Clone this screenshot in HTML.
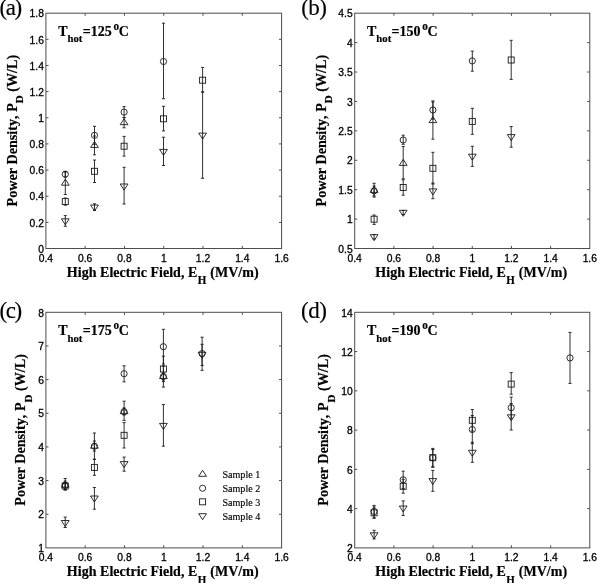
<!DOCTYPE html>
<html lang="en"><head><meta charset="utf-8"><title>Power density vs high electric field</title>
<style>html,body{margin:0;padding:0;background:#fff}body{width:597px;height:583px;overflow:hidden}svg{display:block}text{font-kerning:none}</style>
</head><body>
<svg width="597" height="583" viewBox="0 0 597 583">
<rect width="597" height="583" fill="#fff"/>
<g fill="none" stroke="#4d4d4d" stroke-width="1">
<rect x="45.9" y="13.2" width="235.7" height="235.3"/>
<path d="M85.18 248.5v-2.6M85.18 13.2v2.6M124.47 248.5v-2.6M124.47 13.2v2.6M163.75 248.5v-2.6M163.75 13.2v2.6M203.03 248.5v-2.6M203.03 13.2v2.6M242.32 248.5v-2.6M242.32 13.2v2.6M45.9 222.36h2.6M281.6 222.36h-2.6M45.9 196.21h2.6M281.6 196.21h-2.6M45.9 170.07h2.6M281.6 170.07h-2.6M45.9 143.92h2.6M281.6 143.92h-2.6M45.9 117.78h2.6M281.6 117.78h-2.6M45.9 91.63h2.6M281.6 91.63h-2.6M45.9 65.49h2.6M281.6 65.49h-2.6M45.9 39.34h2.6M281.6 39.34h-2.6"/>
</g>
<g font-family="Liberation Sans, Arial, Helvetica, sans-serif" font-size="10.3" fill="#000" stroke="#000" stroke-width="0.3">
<text x="45.9" y="261.6" text-anchor="middle">0.4</text>
<text x="85.18" y="261.6" text-anchor="middle">0.6</text>
<text x="124.47" y="261.6" text-anchor="middle">0.8</text>
<text x="163.75" y="261.6" text-anchor="middle">1</text>
<text x="203.03" y="261.6" text-anchor="middle">1.2</text>
<text x="242.32" y="261.6" text-anchor="middle">1.4</text>
<text x="281.6" y="261.6" text-anchor="middle">1.6</text>
<text x="43.9" y="252.7" text-anchor="end">0</text>
<text x="43.9" y="226.56" text-anchor="end">0.2</text>
<text x="43.9" y="200.41" text-anchor="end">0.4</text>
<text x="43.9" y="174.27" text-anchor="end">0.6</text>
<text x="43.9" y="148.12" text-anchor="end">0.8</text>
<text x="43.9" y="121.98" text-anchor="end">1</text>
<text x="43.9" y="95.83" text-anchor="end">1.2</text>
<text x="43.9" y="69.69" text-anchor="end">1.4</text>
<text x="43.9" y="43.54" text-anchor="end">1.6</text>
<text x="43.9" y="17.4" text-anchor="end">1.8</text>
</g>
<text font-family="Liberation Serif, Times New Roman, Times, serif" font-weight="bold" stroke="#000" stroke-width="0.2" font-size="14" transform="translate(162.75 276.8) scale(1 1.05)" letter-spacing="0.03" text-anchor="middle">High Electric Field, E<tspan font-size="11" dy="7.2" dx="0.4">H</tspan><tspan dy="-7.2" dx="0.5"> (MV/m)</tspan></text>
<text font-family="Liberation Serif, Times New Roman, Times, serif" font-weight="bold" stroke="#000" stroke-width="0.2" font-size="14.15" transform="translate(16.7 130.65) rotate(-90)" text-anchor="middle">Power Density, P<tspan font-size="11" dy="6.5">D</tspan><tspan dy="-6.5"> (W/L)</tspan></text>
<text font-family="Liberation Serif, Times New Roman, Times, serif" font-weight="bold" stroke="#000" stroke-width="0.2" font-size="14" transform="translate(58.2 35.7) scale(1 1.05)">T<tspan font-size="10.7" dy="6.4">hot</tspan><tspan dy="-6.4" dx="0.3">=125</tspan><tspan font-size="11.2" dy="-5.6" dx="1.8">o</tspan><tspan dy="5.6" dx="-0.3">C</tspan></text>
<text font-family="Liberation Serif, Times New Roman, Times, serif" font-size="23" letter-spacing="-1.4" stroke="#000" stroke-width="0.15" x="-0.6" y="15">(a)</text>
<g fill="none" stroke="#1a1a1a" stroke-width="0.9" stroke-linejoin="miter">
<path d="M65.3 171.5V177M63.75 171.5h3.1M63.75 177h3.1M65.3 172V194.5M63.75 172h3.1M63.75 194.5h3.1M65.3 198V205.2M63.75 198h3.1M63.75 205.2h3.1M65.3 215.6V226.3M63.75 215.6h3.1M63.75 226.3h3.1M94.5 126.3V144.3M92.95 126.3h3.1M92.95 144.3h3.1M94.5 136V154.8M92.95 136h3.1M92.95 154.8h3.1M94.5 160V182.5M92.95 160h3.1M92.95 182.5h3.1M94.5 203.8V210.5M92.95 203.8h3.1M92.95 210.5h3.1M124.1 106.6V117.6M122.55 106.6h3.1M122.55 117.6h3.1M124.1 117.5V127.8M122.55 117.5h3.1M122.55 127.8h3.1M124.1 136.4V156.1M122.55 136.4h3.1M122.55 156.1h3.1M124.1 167.3V204M122.55 167.3h3.1M122.55 204h3.1M163.5 23.2V98.7M161.95 23.2h3.1M161.95 98.7h3.1M163.5 106.3V130.9M161.95 106.3h3.1M161.95 130.9h3.1M163.5 137.2V165.5M161.95 137.2h3.1M161.95 165.5h3.1M202.6 67.4V92M201.05 67.4h3.1M201.05 92h3.1M202.6 91.9V178.3M201.05 91.9h3.1M201.05 178.3h3.1"/>
<circle cx="65.3" cy="174.2" r="3.1"/>
<path d="M65.3 179.2L69.2 185.2L61.4 185.2Z"/>
<rect x="62.3" y="198.6" width="6" height="6"/>
<path d="M65.3 224.8L69.2 218.8L61.4 218.8Z"/>
<circle cx="94.5" cy="135.3" r="3.1"/>
<path d="M94.5 141.4L98.4 147.4L90.6 147.4Z"/>
<rect x="91.5" y="168.3" width="6" height="6"/>
<path d="M94.5 211L98.4 205L90.6 205Z"/>
<circle cx="124.1" cy="112.1" r="3.1"/>
<path d="M124.1 118.7L128 124.7L120.2 124.7Z"/>
<rect x="121.1" y="143.2" width="6" height="6"/>
<path d="M124.1 190L128 184L120.2 184Z"/>
<circle cx="163.5" cy="61.5" r="3.1"/>
<rect x="160.5" y="115.8" width="6" height="6"/>
<path d="M163.5 155.4L167.4 149.4L159.6 149.4Z"/>
<rect x="199.6" y="77.2" width="6" height="6"/>
<path d="M202.6 139.1L206.5 133.1L198.7 133.1Z"/>
</g>
<g fill="none" stroke="#4d4d4d" stroke-width="1">
<rect x="354.7" y="13.2" width="235.1" height="235.3"/>
<path d="M393.88 248.5v-2.6M393.88 13.2v2.6M433.07 248.5v-2.6M433.07 13.2v2.6M472.25 248.5v-2.6M472.25 13.2v2.6M511.43 248.5v-2.6M511.43 13.2v2.6M550.62 248.5v-2.6M550.62 13.2v2.6M354.7 219.09h2.6M589.8 219.09h-2.6M354.7 189.68h2.6M589.8 189.68h-2.6M354.7 160.26h2.6M589.8 160.26h-2.6M354.7 130.85h2.6M589.8 130.85h-2.6M354.7 101.44h2.6M589.8 101.44h-2.6M354.7 72.02h2.6M589.8 72.02h-2.6M354.7 42.61h2.6M589.8 42.61h-2.6"/>
</g>
<g font-family="Liberation Sans, Arial, Helvetica, sans-serif" font-size="10.3" fill="#000" stroke="#000" stroke-width="0.3">
<text x="354.7" y="261.6" text-anchor="middle">0.4</text>
<text x="393.88" y="261.6" text-anchor="middle">0.6</text>
<text x="433.07" y="261.6" text-anchor="middle">0.8</text>
<text x="472.25" y="261.6" text-anchor="middle">1</text>
<text x="511.43" y="261.6" text-anchor="middle">1.2</text>
<text x="550.62" y="261.6" text-anchor="middle">1.4</text>
<text x="589.8" y="261.6" text-anchor="middle">1.6</text>
<text x="352.7" y="252.7" text-anchor="end">0.5</text>
<text x="352.7" y="223.29" text-anchor="end">1</text>
<text x="352.7" y="193.88" text-anchor="end">1.5</text>
<text x="352.7" y="164.46" text-anchor="end">2</text>
<text x="352.7" y="135.05" text-anchor="end">2.5</text>
<text x="352.7" y="105.64" text-anchor="end">3</text>
<text x="352.7" y="76.22" text-anchor="end">3.5</text>
<text x="352.7" y="46.81" text-anchor="end">4</text>
<text x="352.7" y="17.4" text-anchor="end">4.5</text>
</g>
<text font-family="Liberation Serif, Times New Roman, Times, serif" font-weight="bold" stroke="#000" stroke-width="0.2" font-size="14" transform="translate(471.25 276.8) scale(1 1.05)" letter-spacing="0.03" text-anchor="middle">High Electric Field, E<tspan font-size="11" dy="7.2" dx="0.4">H</tspan><tspan dy="-7.2" dx="0.5"> (MV/m)</tspan></text>
<text font-family="Liberation Serif, Times New Roman, Times, serif" font-weight="bold" stroke="#000" stroke-width="0.2" font-size="14.15" transform="translate(325.9 130.65) rotate(-90)" text-anchor="middle">Power Density, P<tspan font-size="11" dy="6.5">D</tspan><tspan dy="-6.5"> (W/L)</tspan></text>
<text font-family="Liberation Serif, Times New Roman, Times, serif" font-weight="bold" stroke="#000" stroke-width="0.2" font-size="14" transform="translate(367 35.7) scale(1 1.05)">T<tspan font-size="10.7" dy="6.4">hot</tspan><tspan dy="-6.4" dx="0.3">=150</tspan><tspan font-size="11.2" dy="-5.6" dx="1.8">o</tspan><tspan dy="5.6" dx="-0.3">C</tspan></text>
<text font-family="Liberation Serif, Times New Roman, Times, serif" font-size="23" letter-spacing="-0.5" stroke="#000" stroke-width="0.15" x="301.2" y="15.2">(b)</text>
<g fill="none" stroke="#1a1a1a" stroke-width="0.9" stroke-linejoin="miter">
<path d="M374.1 186V196M372.55 186h3.1M372.55 196h3.1M374.1 183.3V197.1M372.55 183.3h3.1M372.55 197.1h3.1M374.1 215V224.4M372.55 215h3.1M372.55 224.4h3.1M374.1 234.5V239M372.55 234.5h3.1M372.55 239h3.1M403.2 135.2V144.3M401.65 135.2h3.1M401.65 144.3h3.1M403.2 146.5V178.8M401.65 146.5h3.1M401.65 178.8h3.1M403.2 179.8V195.2M401.65 179.8h3.1M401.65 195.2h3.1M403.2 210.5V214.5M401.65 210.5h3.1M401.65 214.5h3.1M432.9 100.9V119.1M431.35 100.9h3.1M431.35 119.1h3.1M432.9 102V139.2M431.35 102h3.1M431.35 139.2h3.1M432.9 152.3V184M431.35 152.3h3.1M431.35 184h3.1M432.9 183.1V198.7M431.35 183.1h3.1M431.35 198.7h3.1M472.3 51.1V71.2M470.75 51.1h3.1M470.75 71.2h3.1M472.3 108.3V134.3M470.75 108.3h3.1M470.75 134.3h3.1M472.3 146.3V166.4M470.75 146.3h3.1M470.75 166.4h3.1M511.2 40.3V79.4M509.65 40.3h3.1M509.65 79.4h3.1M511.2 126.6V147.2M509.65 126.6h3.1M509.65 147.2h3.1"/>
<circle cx="374.1" cy="190.9" r="3.1"/>
<path d="M374.1 186.4L378 192.4L370.2 192.4Z"/>
<rect x="371.1" y="216.2" width="6" height="6"/>
<path d="M374.1 240.7L378 234.7L370.2 234.7Z"/>
<circle cx="403.2" cy="140" r="3.1"/>
<path d="M403.2 159.4L407.1 165.4L399.3 165.4Z"/>
<rect x="400.2" y="184.5" width="6" height="6"/>
<path d="M403.2 216.3L407.1 210.3L399.3 210.3Z"/>
<circle cx="432.9" cy="110" r="3.1"/>
<path d="M432.9 116.6L436.8 122.6L429 122.6Z"/>
<rect x="429.9" y="165.3" width="6" height="6"/>
<path d="M432.9 194.9L436.8 188.9L429 188.9Z"/>
<circle cx="472.3" cy="60.9" r="3.1"/>
<rect x="469.3" y="118.4" width="6" height="6"/>
<path d="M472.3 160.2L476.2 154.2L468.4 154.2Z"/>
<rect x="508.2" y="57" width="6" height="6"/>
<path d="M511.2 140.6L515.1 134.6L507.3 134.6Z"/>
</g>
<g fill="none" stroke="#4d4d4d" stroke-width="1">
<rect x="45.9" y="312.3" width="235.7" height="235.6"/>
<path d="M85.18 547.9v-2.6M85.18 312.3v2.6M124.47 547.9v-2.6M124.47 312.3v2.6M163.75 547.9v-2.6M163.75 312.3v2.6M203.03 547.9v-2.6M203.03 312.3v2.6M242.32 547.9v-2.6M242.32 312.3v2.6M45.9 514.24h2.6M281.6 514.24h-2.6M45.9 480.59h2.6M281.6 480.59h-2.6M45.9 446.93h2.6M281.6 446.93h-2.6M45.9 413.27h2.6M281.6 413.27h-2.6M45.9 379.61h2.6M281.6 379.61h-2.6M45.9 345.96h2.6M281.6 345.96h-2.6"/>
</g>
<g font-family="Liberation Sans, Arial, Helvetica, sans-serif" font-size="10.3" fill="#000" stroke="#000" stroke-width="0.3">
<text x="45.9" y="561" text-anchor="middle">0.4</text>
<text x="85.18" y="561" text-anchor="middle">0.6</text>
<text x="124.47" y="561" text-anchor="middle">0.8</text>
<text x="163.75" y="561" text-anchor="middle">1</text>
<text x="203.03" y="561" text-anchor="middle">1.2</text>
<text x="242.32" y="561" text-anchor="middle">1.4</text>
<text x="281.6" y="561" text-anchor="middle">1.6</text>
<text x="43.9" y="552.1" text-anchor="end">1</text>
<text x="43.9" y="518.44" text-anchor="end">2</text>
<text x="43.9" y="484.79" text-anchor="end">3</text>
<text x="43.9" y="451.13" text-anchor="end">4</text>
<text x="43.9" y="417.47" text-anchor="end">5</text>
<text x="43.9" y="383.81" text-anchor="end">6</text>
<text x="43.9" y="350.16" text-anchor="end">7</text>
<text x="43.9" y="316.5" text-anchor="end">8</text>
</g>
<text font-family="Liberation Serif, Times New Roman, Times, serif" font-weight="bold" stroke="#000" stroke-width="0.2" font-size="14" transform="translate(162.75 576.2) scale(1 1.05)" letter-spacing="0.03" text-anchor="middle">High Electric Field, E<tspan font-size="11" dy="7.2" dx="0.4">H</tspan><tspan dy="-7.2" dx="0.5"> (MV/m)</tspan></text>
<text font-family="Liberation Serif, Times New Roman, Times, serif" font-weight="bold" stroke="#000" stroke-width="0.2" font-size="14.15" transform="translate(25.1 429.9) rotate(-90)" text-anchor="middle">Power Density, P<tspan font-size="11" dy="6.5">D</tspan><tspan dy="-6.5"> (W/L)</tspan></text>
<text font-family="Liberation Serif, Times New Roman, Times, serif" font-weight="bold" stroke="#000" stroke-width="0.2" font-size="14" transform="translate(58.2 334.8) scale(1 1.05)">T<tspan font-size="10.7" dy="6.4">hot</tspan><tspan dy="-6.4" dx="0.3">=175</tspan><tspan font-size="11.2" dy="-5.6" dx="1.8">o</tspan><tspan dy="5.6" dx="-0.3">C</tspan></text>
<text font-family="Liberation Serif, Times New Roman, Times, serif" font-size="23" letter-spacing="-1.4" stroke="#000" stroke-width="0.15" x="-0.5" y="318.4">(c)</text>
<g fill="none" stroke="#1a1a1a" stroke-width="0.9" stroke-linejoin="miter">
<path d="M65.2 481V489.5M63.65 481h3.1M63.65 489.5h3.1M65.2 478.5V490.2M63.65 478.5h3.1M63.65 490.2h3.1M65.2 483V489M63.65 483h3.1M63.65 489h3.1M65.2 517.1V527.5M63.65 517.1h3.1M63.65 527.5h3.1M94.4 441V451M92.85 441h3.1M92.85 451h3.1M94.4 433V459.2M92.85 433h3.1M92.85 459.2h3.1M94.4 459.5V475.3M92.85 459.5h3.1M92.85 475.3h3.1M94.4 487.5V509.2M92.85 487.5h3.1M92.85 509.2h3.1M124.1 365.8V381.9M122.55 365.8h3.1M122.55 381.9h3.1M124.1 408V415M122.55 408h3.1M122.55 415h3.1M124.1 401.2V420.4M122.55 401.2h3.1M122.55 420.4h3.1M124.1 422.6V448M122.55 422.6h3.1M122.55 448h3.1M124.1 457.1V471.2M122.55 457.1h3.1M122.55 471.2h3.1M163.4 329.3V364M161.85 329.3h3.1M161.85 364h3.1M163.4 356.2V381.6M161.85 356.2h3.1M161.85 381.6h3.1M163.4 373V380M161.85 373h3.1M161.85 380h3.1M163.4 366V387.1M161.85 366h3.1M161.85 387.1h3.1M163.4 404.6V446.2M161.85 404.6h3.1M161.85 446.2h3.1M202.1 337.2V370.3M200.55 337.2h3.1M200.55 370.3h3.1M202.1 344.3V365.5M200.55 344.3h3.1M200.55 365.5h3.1"/>
<circle cx="65.2" cy="485.2" r="3.1"/>
<path d="M65.2 481.2L69.1 487.2L61.3 487.2Z"/>
<rect x="62.2" y="483" width="6" height="6"/>
<path d="M65.2 526.5L69.1 520.5L61.3 520.5Z"/>
<circle cx="94.4" cy="446.2" r="3.1"/>
<path d="M94.4 442.2L98.3 448.2L90.5 448.2Z"/>
<rect x="91.4" y="464.4" width="6" height="6"/>
<path d="M94.4 502L98.3 496L90.5 496Z"/>
<circle cx="124.1" cy="373.7" r="3.1"/>
<circle cx="124.1" cy="411.7" r="3.1"/>
<path d="M124.1 407.7L128 413.7L120.2 413.7Z"/>
<rect x="121.1" y="432.3" width="6" height="6"/>
<path d="M124.1 467.6L128 461.6L120.2 461.6Z"/>
<circle cx="163.4" cy="346.7" r="3.1"/>
<rect x="160.4" y="366" width="6" height="6"/>
<circle cx="163.4" cy="376.5" r="3.1"/>
<path d="M163.4 372.5L167.3 378.5L159.5 378.5Z"/>
<path d="M163.4 429.4L167.3 423.4L159.5 423.4Z"/>
<path d="M202.1 358.3L206 352.3L198.2 352.3Z"/>
<circle cx="202.1" cy="353.6" r="3.1"/>
</g>
<g fill="none" stroke="#4d4d4d" stroke-width="1">
<rect x="354.7" y="312.3" width="235.1" height="235.6"/>
<path d="M393.88 547.9v-2.6M393.88 312.3v2.6M433.07 547.9v-2.6M433.07 312.3v2.6M472.25 547.9v-2.6M472.25 312.3v2.6M511.43 547.9v-2.6M511.43 312.3v2.6M550.62 547.9v-2.6M550.62 312.3v2.6M354.7 508.63h2.6M589.8 508.63h-2.6M354.7 469.37h2.6M589.8 469.37h-2.6M354.7 430.1h2.6M589.8 430.1h-2.6M354.7 390.83h2.6M589.8 390.83h-2.6M354.7 351.57h2.6M589.8 351.57h-2.6"/>
</g>
<g font-family="Liberation Sans, Arial, Helvetica, sans-serif" font-size="10.3" fill="#000" stroke="#000" stroke-width="0.3">
<text x="354.7" y="561" text-anchor="middle">0.4</text>
<text x="393.88" y="561" text-anchor="middle">0.6</text>
<text x="433.07" y="561" text-anchor="middle">0.8</text>
<text x="472.25" y="561" text-anchor="middle">1</text>
<text x="511.43" y="561" text-anchor="middle">1.2</text>
<text x="550.62" y="561" text-anchor="middle">1.4</text>
<text x="589.8" y="561" text-anchor="middle">1.6</text>
<text x="352.7" y="552.1" text-anchor="end">2</text>
<text x="352.7" y="512.83" text-anchor="end">4</text>
<text x="352.7" y="473.57" text-anchor="end">6</text>
<text x="352.7" y="434.3" text-anchor="end">8</text>
<text x="352.7" y="395.03" text-anchor="end">10</text>
<text x="352.7" y="355.77" text-anchor="end">12</text>
<text x="352.7" y="316.5" text-anchor="end">14</text>
</g>
<text font-family="Liberation Serif, Times New Roman, Times, serif" font-weight="bold" stroke="#000" stroke-width="0.2" font-size="14" transform="translate(471.25 576.2) scale(1 1.05)" letter-spacing="0.03" text-anchor="middle">High Electric Field, E<tspan font-size="11" dy="7.2" dx="0.4">H</tspan><tspan dy="-7.2" dx="0.5"> (MV/m)</tspan></text>
<text font-family="Liberation Serif, Times New Roman, Times, serif" font-weight="bold" stroke="#000" stroke-width="0.2" font-size="14.15" transform="translate(328.4 429.9) rotate(-90)" text-anchor="middle">Power Density, P<tspan font-size="11" dy="6.5">D</tspan><tspan dy="-6.5"> (W/L)</tspan></text>
<text font-family="Liberation Serif, Times New Roman, Times, serif" font-weight="bold" stroke="#000" stroke-width="0.2" font-size="14" transform="translate(367 334.8) scale(1 1.05)">T<tspan font-size="10.7" dy="6.4">hot</tspan><tspan dy="-6.4" dx="0.3">=190</tspan><tspan font-size="11.2" dy="-5.6" dx="1.8">o</tspan><tspan dy="5.6" dx="-0.3">C</tspan></text>
<text font-family="Liberation Serif, Times New Roman, Times, serif" font-size="23" letter-spacing="-0.5" stroke="#000" stroke-width="0.15" x="301" y="317.6">(d)</text>
<g fill="none" stroke="#1a1a1a" stroke-width="0.9" stroke-linejoin="miter">
<path d="M374.1 505.4V518M372.55 505.4h3.1M372.55 518h3.1M374.1 507V518.2M372.55 507h3.1M372.55 518.2h3.1M374.1 530.3V539M372.55 530.3h3.1M372.55 539h3.1M403.2 471.2V488.4M401.65 471.2h3.1M401.65 488.4h3.1M403.2 479.3V493.2M401.65 479.3h3.1M401.65 493.2h3.1M403.2 500.9V515.5M401.65 500.9h3.1M401.65 515.5h3.1M432.8 448.4V467.4M431.25 448.4h3.1M431.25 467.4h3.1M432.8 449.5V466.3M431.25 449.5h3.1M431.25 466.3h3.1M432.8 470.4V491.3M431.25 470.4h3.1M431.25 491.3h3.1M472.3 409.5V431.1M470.75 409.5h3.1M470.75 431.1h3.1M472.3 415.5V443.7M470.75 415.5h3.1M470.75 443.7h3.1M472.3 442.3V462.3M470.75 442.3h3.1M470.75 462.3h3.1M511.2 372.6V394.2M509.65 372.6h3.1M509.65 394.2h3.1M511.2 397.1V418.3M509.65 397.1h3.1M509.65 418.3h3.1M511.2 403.6V430M509.65 403.6h3.1M509.65 430h3.1M570 332.4V383.4M568.45 332.4h3.1M568.45 383.4h3.1"/>
<circle cx="374.1" cy="511.5" r="3.1"/>
<rect x="371.1" y="509.8" width="6" height="6"/>
<path d="M374.1 538.8L378 532.8L370.2 532.8Z"/>
<circle cx="403.2" cy="479.8" r="3.1"/>
<rect x="400.2" y="483.3" width="6" height="6"/>
<path d="M403.2 512L407.1 506L399.3 506Z"/>
<rect x="429.8" y="454.7" width="6" height="6"/>
<circle cx="432.8" cy="457.7" r="3.1"/>
<path d="M432.8 484.6L436.7 478.6L428.9 478.6Z"/>
<rect x="469.3" y="417.3" width="6" height="6"/>
<circle cx="472.3" cy="429.5" r="3.1"/>
<path d="M472.3 456.3L476.2 450.3L468.4 450.3Z"/>
<rect x="508.2" y="381.1" width="6" height="6"/>
<circle cx="511.2" cy="407.7" r="3.1"/>
<path d="M511.2 420.8L515.1 414.8L507.3 414.8Z"/>
<circle cx="570" cy="357.9" r="3.1"/>
</g>
<g fill="none" stroke="#1a1a1a" stroke-width="0.9">
<path d="M202.6 470.3L206.5 476.3L198.7 476.3Z"/>
<circle cx="202.6" cy="488.2" r="3.1"/>
<rect x="199.6" y="498.8" width="6" height="6"/>
<path d="M202.6 519.7L206.5 513.7L198.7 513.7Z"/>
</g>
<g font-family="Liberation Serif, Times New Roman, Times, serif" font-size="10.1" fill="#000" stroke="#000" stroke-width="0.15">
<text x="222.4" y="478.4">Sample 1</text>
<text x="222.4" y="492.3">Sample 2</text>
<text x="222.4" y="506.1">Sample 3</text>
<text x="222.4" y="520">Sample 4</text>
</g>
</svg>
</body></html>
